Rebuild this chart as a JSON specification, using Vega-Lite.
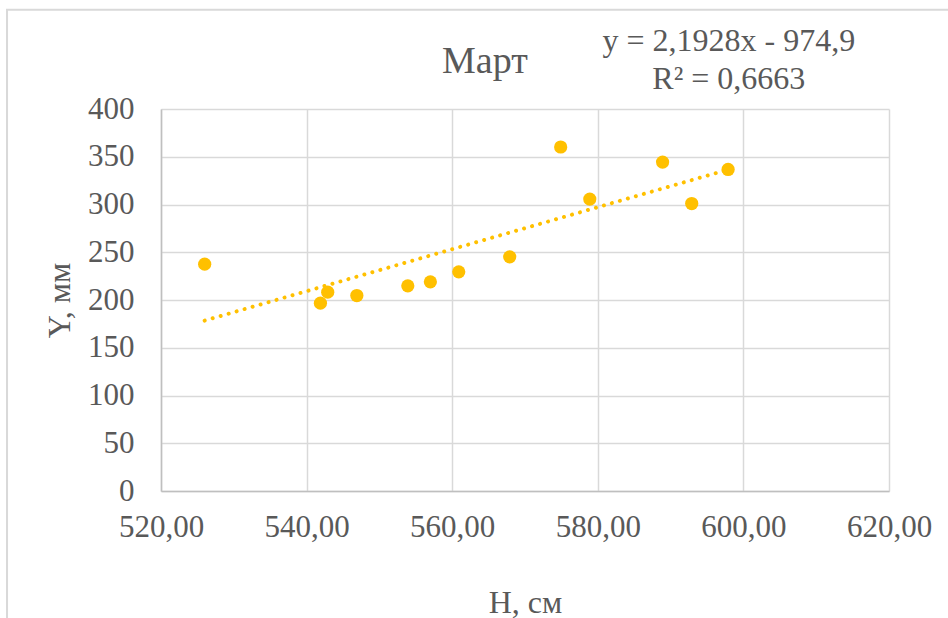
{
  "$schema": "https://vega.github.io/schema/vega-lite/v6.json",
  "width": 728,
  "height": 382,
  "autosize": {"type": "none"},
  "padding": {"left": 161, "top": 109, "right": 59, "bottom": 127},
  "background": "white",
  "config": {
    "view": {"stroke": null},
    "font": "Liberation Serif",
    "axis": {
      "labelFont": "Liberation Serif",
      "titleFont": "Liberation Serif",
      "labelColor": "#595959",
      "titleColor": "#595959",
      "labelFontSize": 31,
      "titleFontSize": 32,
      "titleFontWeight": "normal",
      "ticks": false,
      "grid": true,
      "gridColor": "#d9d9d9",
      "gridWidth": 1.5,
      "domainColor": "#bfbfbf",
      "domainWidth": 1.5
    }
  },
  "datasets": {
    "points": [
      {"H": 526.0, "Y": 237.5},
      {"H": 541.9, "Y": 196.7},
      {"H": 542.9, "Y": 208.2},
      {"H": 546.9, "Y": 204.7},
      {"H": 553.9, "Y": 214.8},
      {"H": 557.0, "Y": 219.0},
      {"H": 560.9, "Y": 229.5},
      {"H": 567.9, "Y": 245.2},
      {"H": 574.9, "Y": 360.2},
      {"H": 578.9, "Y": 305.7},
      {"H": 588.9, "Y": 344.4},
      {"H": 592.9, "Y": 301.0},
      {"H": 597.9, "Y": 336.7}
    ],
    "label": [
      {"text": "y = 2,1928x - 974,9\nR² = 0,6663"}
    ],
    "title": [
      {"text": "Март"}
    ],
    "frame": [
      {"note": "chart area"}
    ]
  },
  "layer": [
    {
      "data": {"name": "frame"},
      "mark": {"type": "rect", "fill": null, "fillOpacity": 0, "stroke": "#d9d9d9", "strokeWidth": 2, "clip": false},
      "encoding": {
        "x": {"datum": 498.85},
        "x2": {"datum": 700},
        "y": {"datum": 504.0},
        "y2": {"datum": -200}
      }
    },
    {
      "data": {"name": "points"},
      "mark": {"type": "point", "filled": true, "size": 175, "color": "#FFC000", "opacity": 1},
      "encoding": {
        "x": {
          "field": "H",
          "type": "quantitative",
          "title": "H, см",
          "scale": {"domain": [520, 620], "nice": false, "zero": false},
          "axis": {
            "values": [520, 540, 560, 580, 600, 620],
            "labelExpr": "replace(format(datum.value, '.2f'), '.', ',')",
            "labelPadding": 21,
            "labelFlush": false,
            "labelOverlap": false,
            "titleY": 111,
            "titleBaseline": "middle",
            "titleAnchor": "middle"
          }
        },
        "y": {
          "field": "Y",
          "type": "quantitative",
          "title": "Y, мм",
          "scale": {"domain": [0, 400], "nice": false, "zero": true},
          "axis": {
            "values": [0, 50, 100, 150, 200, 250, 300, 350, 400],
            "labelPadding": 27,
            "labelOverlap": false,
            "labelFlush": false,
            "titleX": -102,
            "titleY": 191,
            "titleAngle": -90,
            "titleAlign": "center",
            "titleBaseline": "middle"
          }
        }
      }
    },
    {
      "data": {"name": "points"},
      "transform": [{"regression": "Y", "on": "H", "method": "linear"}],
      "mark": {"type": "line", "color": "#FFC000", "strokeWidth": 4, "strokeCap": "round", "strokeDash": [0.01, 8.3]},
      "encoding": {
        "x": {"field": "H", "type": "quantitative", "title": "H, см"},
        "y": {"field": "Y", "type": "quantitative", "title": "Y, мм"}
      }
    },
    {
      "data": {"name": "label"},
      "mark": {
        "type": "text",
        "font": "Liberation Serif",
        "fontSize": 32,
        "color": "#595959",
        "align": "center",
        "baseline": "alphabetic",
        "lineBreak": "\n",
        "lineHeight": 38
      },
      "encoding": {
        "x": {"datum": 598.0},
        "y": {"datum": 460.3},
        "text": {"field": "text"}
      }
    },
    {
      "data": {"name": "title"},
      "mark": {
        "type": "text",
        "font": "Liberation Serif",
        "fontSize": 38,
        "color": "#595959",
        "align": "center",
        "baseline": "alphabetic"
      },
      "encoding": {
        "x": {"datum": 564.5},
        "y": {"datum": 438.0},
        "text": {"field": "text"}
      }
    }
  ]
}
